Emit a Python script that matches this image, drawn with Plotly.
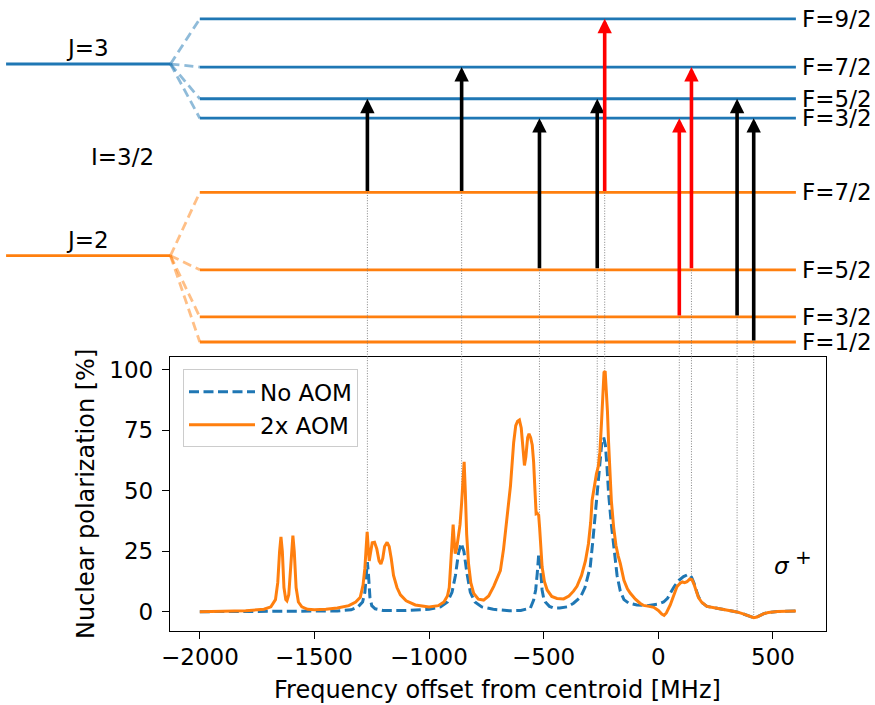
import numpy as np
import plotly.graph_objects as go

# ---------------- spectrum data ----------------
freq_2aom = [-2000, -1900, -1800, -1720, -1690, -1670, -1660, -1652, -1646, -1640, -1633, -1625, -1620,
             -1612, -1604, -1598, -1594, -1588, -1580, -1570, -1555, -1530, -1500, -1450, -1400, -1350,
             -1320, -1300, -1288, -1280, -1274, -1270, -1265, -1261, -1256, -1248, -1238, -1228, -1218,
             -1210, -1202, -1194, -1183, -1174, -1165, -1155, -1140, -1125, -1100, -1060, -1000, -960,
             -935, -920, -912, -905, -899, -895, -891, -886, -880, -872, -865, -858, -852, -847, -842,
             -836, -828, -818, -805, -785, -762, -740, -718, -700, -689, -675, -660, -645, -631, -622,
             -614, -606, -598, -590, -584, -578, -570, -564, -557, -550, -544, -538, -533, -528, -522,
             -518, -513, -507, -497, -485, -465, -442, -413, -390, -370, -355, -335, -318, -305, -295,
             -289, -280, -270, -262, -255, -248, -242, -237, -232, -227, -222, -217, -212, -205, -195,
             -185, -175, -166, -150, -135, -122, -100, -80, -64, -40, -20, 0, 15, 25, 35, 52, 65, 81,
             95, 105, 115, 125, 137, 147, 155, 163, 175, 190, 212, 250, 285, 320, 343, 370, 400, 416,
             430, 445, 460, 480, 520, 600]
pol_2aom = [0.0, 0.1, 0.4, 1.0, 2.0, 5.0, 12.0, 25.0, 31.0, 25.0, 10.0, 5.0, 4.5,
            7.0, 18.0, 29.0, 31.5, 25.0, 10.0, 4.0, 2.0, 1.0, 0.8, 1.0, 1.5, 2.5,
            4.0, 6.0, 11.0, 18.0, 28.0, 33.0, 26.0, 21.0, 24.0, 28.5, 28.7, 26.0, 21.0,
            19.7, 22.0, 27.0, 28.7, 27.0, 22.0, 15.0, 10.0, 7.0, 4.5, 2.8, 2.0, 2.5,
            4.0, 6.5, 10.0, 20.0, 33.0, 36.0, 30.0, 24.0, 26.0, 31.0, 36.0, 45.0, 57.0, 62.0, 50.0,
            32.0, 20.0, 12.0, 7.5, 5.2, 4.8, 6.5, 10.5, 14.5, 17.0, 26.0, 38.0, 52.0, 70.0, 77.0,
            78.8, 79.3, 76.0, 66.0, 60.5, 64.0, 72.0, 73.6, 72.0, 69.0, 62.0, 50.0, 40.5, 40.7, 40.0,
            35.0, 26.0, 18.6, 12.5, 9.0, 6.3, 5.5, 5.3, 6.5, 8.5, 10.5, 15.0, 21.0, 28.0, 37.0,
            46.0, 52.0, 57.0, 60.0, 66.0, 78.0, 90.0, 99.0, 99.5, 92.0, 83.0, 70.0, 57.0, 46.0, 35.0,
            27.5, 23.0, 20.0, 13.0, 9.5, 7.6, 5.2, 3.5, 2.6, 2.2, 1.8, 0.5, -1.0, -1.5, -0.5, 2.8, 6.5, 10.3,
            11.8, 12.3, 12.0, 12.4, 13.5, 13.2, 11.5, 9.0, 5.8, 3.8, 2.2, 1.5, 1.0, 0.4, -0.1, -0.9, -1.9, -2.5,
            -2.2, -1.5, -0.8, -0.3, 0.1, 0.3]

freq_noaom = [-2000, -1800, -1500, -1400, -1340, -1310, -1290, -1280, -1274, -1269, -1264, -1258, -1250,
              -1235, -1200, -1100, -1000, -950, -920, -900, -885, -872, -860, -848, -835, -820, -800,
              -770, -720, -650, -600, -565, -558, -544, -535, -528, -522, -517, -512, -507, -500, -493,
              -475, -457, -430, -398, -370, -340, -320, -297, -285, -267, -255, -246, -238, -231, -224,
              -217, -206, -195, -180, -166, -150, -130, -110, -93, -50, -20, 0, 23, 40, 52, 70, 90, 110,
              125, 135, 145, 155, 165, 175, 190, 212, 250, 285, 320, 343, 370, 400, 416, 430, 445, 460,
              480, 520, 600]
pol_noaom = [0.0, 0.0, 0.1, 0.3, 0.8, 2.0, 4.0, 8.0, 15.0, 20.5, 15.0, 6.0, 2.5,
             1.2, 0.5, 0.5, 1.0, 2.0, 4.0, 8.0, 15.0, 24.0, 28.3, 25.0, 16.0, 8.0, 4.0,
             2.0, 1.0, 0.4, 0.5, 1.2, 1.5, 4.8, 9.0, 16.0, 23.5, 22.0, 14.0, 9.0, 5.5, 4.0,
             2.2, 1.5, 1.5, 2.0, 3.5, 6.0, 10.0, 18.6, 30.0, 47.6, 62.0, 70.5, 72.0, 69.0, 60.0,
             49.0, 37.0, 27.0, 15.0, 8.5, 5.0, 3.6, 3.0, 2.8, 2.5, 2.8, 3.2, 4.0, 5.5, 7.6, 10.5, 13.0, 14.5,
             15.2, 15.4, 14.2, 12.0, 9.0, 6.2, 3.8, 2.2, 1.5, 1.0, 0.4, -0.1, -0.9, -1.9, -2.5, -2.2, -1.5, -0.8,
             -0.3, 0.1, 0.3]

series_names = ["No AOM", "2x AOM"]

# ---------------- level diagram (hyperfine shifts in MHz) ----------------
upper_F = ["9/2", "7/2", "5/2", "3/2"]
upper_E = [585.0, -39.0, -450.0, -702.0]
lower_F = ["7/2", "5/2", "3/2", "1/2"]
lower_E = [819.0, -183.5, -793.5, -1118.0]
J_labels = ["J=3", "J=2"]
J_offsets = [2482.0, 0.0]          # display offset of each fine-structure level
nuclear_spin_label = "I=3/2"
# transitions: (lower F, upper F, colour)
transitions = [("7/2", "5/2", "black"), ("7/2", "7/2", "black"), ("5/2", "3/2", "black"),
               ("5/2", "5/2", "black"), ("7/2", "9/2", "red"), ("3/2", "3/2", "red"),
               ("5/2", "7/2", "red"), ("3/2", "5/2", "black"), ("1/2", "3/2", "black")]

x_ticks = [-2000, -1500, -1000, -500, 0, 500]
x_ticklabels = ["−2000", "−1500", "−1000", "−500", "0", "500"]
y_ticks = [0, 25, 50, 75, 100]

# ---------------- layout geometry ----------------
W, H = 875, 705
BLUE = "#1f77b4"
ORANGE = "#ff7f0e"
FONT = "DejaVu Sans"
FS = 23
FS_LAB = 24

xr = [-2130, 730]
yr = [-7.86, 105.25]
xdom = [170 / W, 825.7 / W]
ydom = [(H - 630.7) / H, (H - 357.3) / H]
# top (diagram) axis sharing the same MHz-per-pixel scale, spanning full width
span = (xr[1] - xr[0]) / (xdom[1] - xdom[0])
x2r = [xr[0] - xdom[0] * span, xr[0] - xdom[0] * span + span]
y2dom = [ydom[1], 1.0]
y2r = [-1316.0, 3311.0]

x_line0, x_line1 = -2000, 600
xJ0, xJ1 = -2845, -2128

fig = go.Figure()

# ---- level diagram ----
groups = [(upper_F, upper_E, J_offsets[0], BLUE, "rgba(31,119,180,0.5)"),
          (lower_F, lower_E, J_offsets[1], ORANGE, "rgba(255,127,14,0.5)")]
for Fs, Es, off, col, fcol in groups:
    fig.add_trace(go.Scatter(x=[xJ0, xJ1], y=[off, off], mode="lines", line=dict(color=col, width=2.8),
                             xaxis="x2", yaxis="y2", showlegend=False, hoverinfo="skip"))
    for F, E in zip(Fs, Es):
        fig.add_trace(go.Scatter(x=[xJ1, x_line0], y=[off, off + E], mode="lines",
                                 line=dict(color=fcol, width=2.8, dash="9px,5px"),
                                 xaxis="x2", yaxis="y2", showlegend=False, hoverinfo="skip"))
        fig.add_trace(go.Scatter(x=[x_line0, x_line1], y=[off + E, off + E], mode="lines",
                                 line=dict(color=col, width=2.8),
                                 xaxis="x2", yaxis="y2", showlegend=False, hoverinfo="skip"))
        fig.add_annotation(x=x_line1, y=off + E, xref="x2", yref="y2", text="F=" + F,
                           showarrow=False, xanchor="left", yanchor="middle", xshift=4,
                           font=dict(size=FS, color="black", family=FONT))

upE = dict(zip(upper_F, upper_E))
loE = dict(zip(lower_F, lower_E))
for lo, up, col in transitions:
    f = upE[up] - loE[lo]
    ylo = J_offsets[1] + loE[lo]
    yup = J_offsets[0] + upE[up]
    # dotted guide: diagram part and spectrum part
    fig.add_trace(go.Scatter(x=[f, f], y=[ylo, y2r[0] - 500], mode="lines",
                             line=dict(color="#777777", width=0.9, dash="1px,1.6px"),
                             xaxis="x2", yaxis="y2", showlegend=False, hoverinfo="skip"))
    fig.add_trace(go.Scatter(x=[f, f], y=[float(np.interp(f, freq_2aom, pol_2aom)), yr[1] + 50],
                             mode="lines", line=dict(color="#777777", width=0.9, dash="1px,1.6px"),
                             xaxis="x", yaxis="y", showlegend=False, hoverinfo="skip"))
    fig.add_annotation(x=f, y=yup, ax=f, ay=ylo, xref="x2", yref="y2", axref="x2", ayref="y2",
                       text="", showarrow=True, arrowhead=2, arrowwidth=3.6, arrowsize=0.8,
                       arrowcolor=col, standoff=0)

for lab, off in zip(J_labels, J_offsets):
    fig.add_annotation(x=-2488, y=off, xref="x2", yref="y2", text=lab, showarrow=False,
                       xanchor="center", yanchor="bottom", yshift=1,
                       font=dict(size=FS, color="black", family=FONT))
fig.add_annotation(x=-2339, y=1272, xref="x2", yref="y2", text=nuclear_spin_label, showarrow=False,
                   xanchor="center", yanchor="middle", font=dict(size=FS, color="black", family=FONT))

# ---- spectrum ----
fig.add_trace(go.Scatter(x=freq_noaom, y=pol_noaom, mode="lines", name=series_names[0],
                         line=dict(color=BLUE, width=3, dash="10px,4.5px"), xaxis="x", yaxis="y",
                         legendgroup="a"))
fig.add_trace(go.Scatter(x=freq_2aom, y=pol_2aom, mode="lines", name=series_names[1],
                         line=dict(color=ORANGE, width=3), xaxis="x", yaxis="y", legendgroup="b"))

fig.add_annotation(x=497, y=20.5, xref="x", yref="y",
                   text="<i>σ</i><sup><span style='font-size:20px'> +</span></sup>", showarrow=False,
                   xanchor="left", yanchor="middle", font=dict(size=FS, color="black", family=FONT))
fig.add_annotation(x=0.5 * (xdom[0] + xdom[1]), y=1 - 690 / H, xref="paper", yref="paper",
                   text="Frequency offset from centroid [MHz]", showarrow=False,
                   xanchor="center", yanchor="middle", font=dict(size=FS_LAB, color="black", family=FONT))
fig.add_annotation(x=86 / W, y=0.5 * (ydom[0] + ydom[1]), xref="paper", yref="paper",
                   text="Nuclear polarization [%]", showarrow=False, textangle=-90,
                   xanchor="center", yanchor="middle", font=dict(size=FS_LAB, color="black", family=FONT))
# x tick labels placed on the x scale
for tv, tl in zip(x_ticks, x_ticklabels):
    fig.add_annotation(x=tv, y=1 - 656.7 / H, xref="x", yref="paper", text=tl, showarrow=False,
                       xanchor="center", yanchor="middle", font=dict(size=FS, color="black", family=FONT))

axis_common = dict(showgrid=False, zeroline=False, showline=True, linecolor="black", linewidth=1.3,
                   mirror=True, ticks="outside", ticklen=7, tickwidth=1.3, tickcolor="black",
                   tickfont=dict(size=FS, color="black", family=FONT))

fig.update_layout(
    width=W, height=H, margin=dict(l=0, r=0, t=0, b=0, autoexpand=False),
    paper_bgcolor="white", plot_bgcolor="rgba(0,0,0,0)",
    font=dict(family=FONT, size=FS, color="black"),
    xaxis=dict(domain=xdom, range=xr, anchor="y", tickvals=x_ticks, automargin=False,
               showticklabels=False, **axis_common),
    yaxis=dict(domain=ydom, range=yr, anchor="x", tickvals=y_ticks, automargin=False,
               ticklabelstandoff=4, **axis_common),
    xaxis2=dict(domain=[0, 1], range=x2r, anchor="y2", visible=False),
    yaxis2=dict(domain=y2dom, range=y2r, anchor="x2", visible=False),
    showlegend=True,
    legend=dict(x=183 / W, y=1 - 369.3 / H, xanchor="left", yanchor="top",
                bgcolor="rgba(255,255,255,0.8)", bordercolor="#cccccc", borderwidth=1,
                font=dict(size=FS, family=FONT, color="black"), itemwidth=66,
                tracegroupgap=0),
)

fig.write_html("out.html")
